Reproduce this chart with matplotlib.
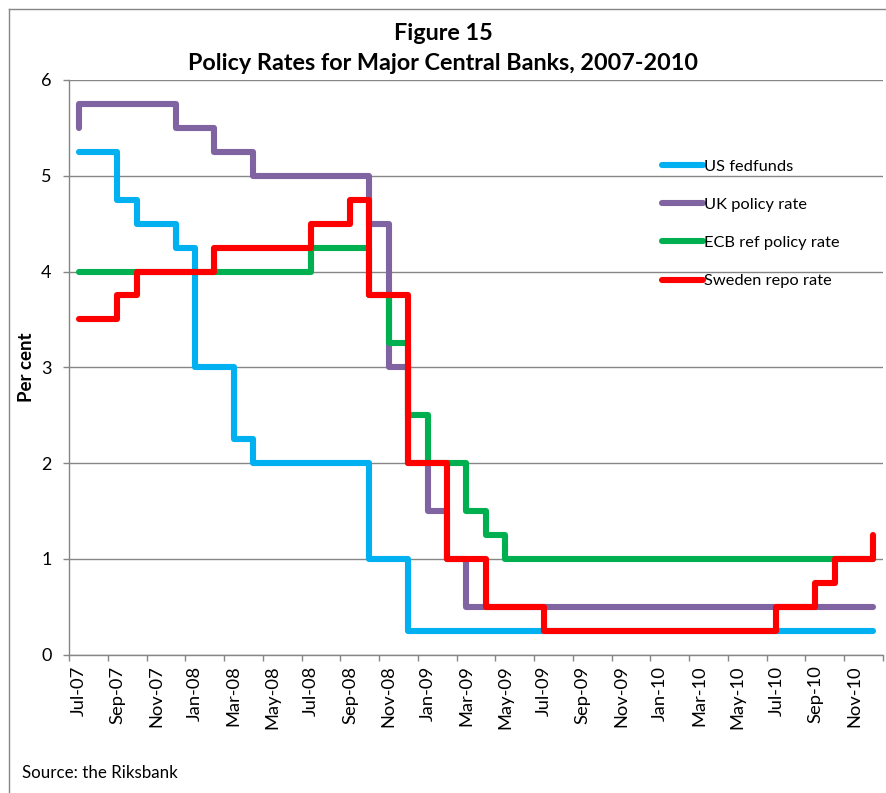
import matplotlib
matplotlib.use("Agg")
import matplotlib.pyplot as plt
from matplotlib.lines import Line2D

# ---------------- data ----------------
months = ['Jul-07', 'Aug-07', 'Sep-07', 'Oct-07', 'Nov-07', 'Dec-07',
          'Jan-08', 'Feb-08', 'Mar-08', 'Apr-08', 'May-08', 'Jun-08',
          'Jul-08', 'Aug-08', 'Sep-08', 'Oct-08', 'Nov-08', 'Dec-08',
          'Jan-09', 'Feb-09', 'Mar-09', 'Apr-09', 'May-09', 'Jun-09',
          'Jul-09', 'Aug-09', 'Sep-09', 'Oct-09', 'Nov-09', 'Dec-09',
          'Jan-10', 'Feb-10', 'Mar-10', 'Apr-10', 'May-10', 'Jun-10',
          'Jul-10', 'Aug-10', 'Sep-10', 'Oct-10', 'Nov-10', 'Dec-10']

# rate at the start of Jul-07, then end-of-month rates
us_start = 5.25
us_fedfunds = [5.25, 5.25, 4.75, 4.50, 4.50, 4.25,
               3.00, 3.00, 2.25, 2.00, 2.00, 2.00,
               2.00, 2.00, 2.00, 1.00, 1.00, 0.25,
               0.25, 0.25, 0.25, 0.25, 0.25, 0.25,
               0.25, 0.25, 0.25, 0.25, 0.25, 0.25,
               0.25, 0.25, 0.25, 0.25, 0.25, 0.25,
               0.25, 0.25, 0.25, 0.25, 0.25, 0.25]

uk_start = 5.50
uk_policy = [5.75, 5.75, 5.75, 5.75, 5.75, 5.50,
             5.50, 5.25, 5.25, 5.00, 5.00, 5.00,
             5.00, 5.00, 5.00, 4.50, 3.00, 2.00,
             1.50, 1.00, 0.50, 0.50, 0.50, 0.50,
             0.50, 0.50, 0.50, 0.50, 0.50, 0.50,
             0.50, 0.50, 0.50, 0.50, 0.50, 0.50,
             0.50, 0.50, 0.50, 0.50, 0.50, 0.50]

ecb_start = 4.00
ecb_ref = [4.00, 4.00, 4.00, 4.00, 4.00, 4.00,
           4.00, 4.00, 4.00, 4.00, 4.00, 4.00,
           4.25, 4.25, 4.25, 3.75, 3.25, 2.50,
           2.00, 2.00, 1.50, 1.25, 1.00, 1.00,
           1.00, 1.00, 1.00, 1.00, 1.00, 1.00,
           1.00, 1.00, 1.00, 1.00, 1.00, 1.00,
           1.00, 1.00, 1.00, 1.00, 1.00, 1.00]

se_start = 3.50
se_repo = [3.50, 3.50, 3.75, 4.00, 4.00, 4.00,
           4.00, 4.25, 4.25, 4.25, 4.25, 4.25,
           4.50, 4.50, 4.75, 3.75, 3.75, 2.00,
           2.00, 1.00, 1.00, 0.50, 0.50, 0.50,
           0.25, 0.25, 0.25, 0.25, 0.25, 0.25,
           0.25, 0.25, 0.25, 0.25, 0.25, 0.25,
           0.50, 0.50, 0.75, 1.00, 1.00, 1.25]

series_names = ['US fedfunds', 'UK policy rate', 'ECB ref policy rate', 'Sweden repo rate']
series_starts = [us_start, uk_start, ecb_start, se_start]
series_values = [us_fedfunds, uk_policy, ecb_ref, se_repo]
series_colors = ['#00B0F0', '#8064A2', '#00B050', '#FF0000']

y_ticks = [0, 1, 2, 3, 4, 5, 6]

# ---------------- figure ----------------
W, H = 886, 793
FONT = ['Lato', 'DejaVu Sans']
plt.rcParams['font.family'] = FONT

fig = plt.figure(figsize=(W / 100, H / 100), dpi=100)
ax = fig.add_axes([69 / W, 1 - 654.5 / H, (883 - 69) / W, (654.5 - 80) / H])

n = len(months)
xc = [i + 0.5 for i in range(n)]
handles = []
for name, start, vals, col in zip(series_names, series_starts, series_values, series_colors):
    ln, = ax.plot([xc[0]] + xc, [start] + vals, drawstyle='steps-post', color=col,
                  lw=4.4, solid_joinstyle='round', solid_capstyle='round', label=name,
                  zorder=3)
    handles.append(ln)

ax.set_xlim(0, n)
ax.set_ylim(0, 6)
ax.set_yticks(y_ticks)
ax.set_yticklabels([str(v) for v in y_ticks])

# major ticks at month boundaries every 2 months, labels at month centres
ax.set_xticks(list(range(0, n + 1, 2)))
ax.set_xticklabels([])
ax.set_xticks([xc[i] for i in range(0, n, 2)], minor=True)
ax.set_xticklabels([months[i] for i in range(0, n, 2)], minor=True, rotation=90,
                   fontsize=13.2, va='top', ha='center')
ax.tick_params(axis='x', which='major', direction='out', length=4.5, width=1, color='#868686')
ax.tick_params(axis='x', which='minor', length=0, pad=8)
ax.tick_params(axis='y', direction='out', length=4.5, width=1, color='#868686',
               labelsize=13, pad=8)

ax.grid(axis='y', color='#868686', lw=1)
ax.set_axisbelow(True)
for s in ['top', 'right']:
    ax.spines[s].set_visible(False)
for s in ['left', 'bottom']:
    ax.spines[s].set_color('#868686')
    ax.spines[s].set_linewidth(1)

fig.text(27 / W, 1 - 367 / H, 'Per cent', rotation=90, fontsize=13.5, fontweight='bold',
         ha='center', va='center')

fig.text(0.5, 1 - 33 / H, 'Figure 15', fontsize=16.8, fontweight='bold', ha='center', va='center')
fig.text(0.5, 1 - 64 / H, 'Policy Rates for Major Central Banks, 2007-2010', fontsize=16.8,
         fontweight='bold', ha='center', va='center')

fig.text(22 / W, 1 - 773 / H, 'Source: the Riksbank', fontsize=12.2, ha='left', va='center')

leg = ax.legend(handles=handles, loc='upper left', bbox_to_anchor=(655 / W, 1 - 153 / H),
                bbox_transform=fig.transFigure, frameon=False, fontsize=11.8,
                handlelength=2.55, handletextpad=0.05, labelspacing=1.44, borderaxespad=0)

# outer chart border (left and top edges visible)
fig.add_artist(Line2D([9 / W, 9 / W], [0, 1 - 9 / H], transform=fig.transFigure,
                      color='#868686', lw=1))
fig.add_artist(Line2D([9 / W, 1], [1 - 9 / H, 1 - 9 / H], transform=fig.transFigure,
                      color='#868686', lw=1))

fig.savefig('out.png', dpi=100)
